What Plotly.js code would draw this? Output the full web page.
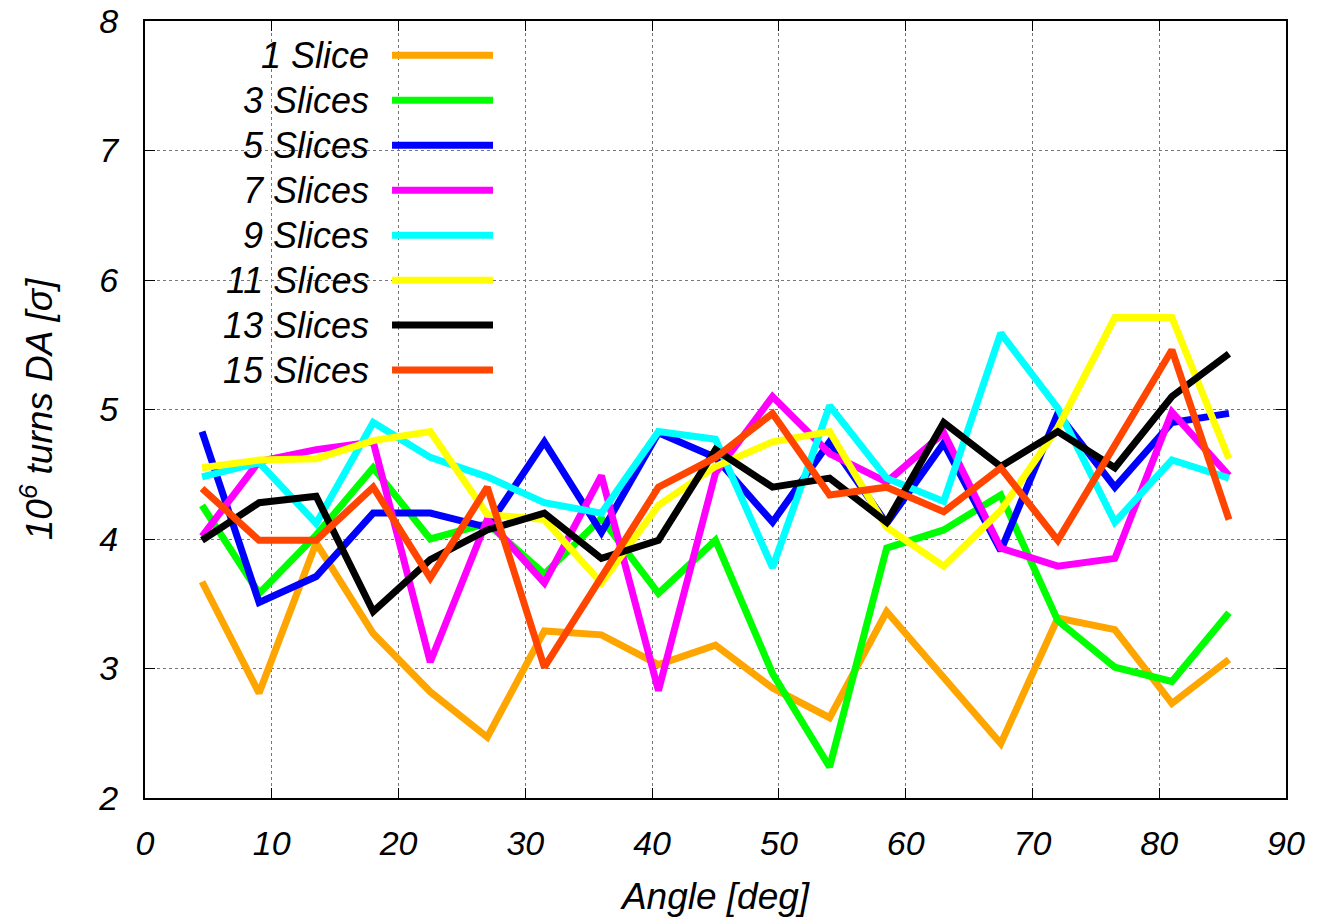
<!DOCTYPE html>
<html>
<head>
<meta charset="utf-8">
<script src="https://cdn.plot.ly/plotly-3.0.1.min.js"></script>
<style>
  html, body { margin: 0; padding: 0; background: #fff; }
  #chart { width: 1321px; height: 917px; }
</style>
</head>
<body>
<div id="chart"></div>
<script>
// Scan angles (deg)
const angles = [4.5, 9, 13.5, 18, 22.5, 27, 31.5, 36, 40.5, 45, 49.5, 54, 58.5, 63, 67.5, 72, 76.5, 81, 85.5];

// Dynamic aperture after 10^6 turns, per number of slices
const slices1  = [3.67, 2.81, 3.97, 3.27, 2.82, 2.47, 3.29, 3.26, 3.03, 3.18, 2.85, 2.62, 3.44, 2.93, 2.42, 3.39, 3.30, 2.73, 3.07];
const slices3  = [4.26, 3.58, 4.03, 4.55, 4.00, 4.12, 3.73, 4.16, 3.58, 3.99, 2.96, 2.24, 3.93, 4.07, 4.34, 3.37, 3.01, 2.90, 3.43];
const slices5  = [4.83, 3.51, 3.71, 4.20, 4.20, 4.09, 4.75, 4.05, 4.82, 4.63, 4.13, 4.75, 4.12, 4.74, 3.91, 4.97, 4.40, 4.90, 4.97];
const slices7  = [4.02, 4.60, 4.69, 4.75, 3.05, 4.15, 3.66, 4.49, 2.83, 4.51, 5.10, 4.66, 4.44, 4.82, 3.93, 3.79, 3.85, 4.98, 4.49];
const slices9  = [4.48, 4.59, 4.12, 4.90, 4.63, 4.48, 4.28, 4.20, 4.83, 4.77, 3.78, 5.03, 4.47, 4.29, 5.59, 5.01, 4.13, 4.61, 4.47];
const slices11 = [4.55, 4.61, 4.62, 4.76, 4.83, 4.19, 4.15, 3.66, 4.26, 4.56, 4.75, 4.83, 4.09, 3.79, 4.22, 4.86, 5.71, 5.71, 4.62];
const slices13 = [3.99, 4.28, 4.33, 3.44, 3.84, 4.07, 4.20, 3.85, 3.99, 4.69, 4.40, 4.47, 4.13, 4.90, 4.56, 4.83, 4.55, 5.10, 5.43];
const slices15 = [4.39, 3.99, 3.99, 4.40, 3.70, 4.40, 3.01, 3.71, 4.40, 4.63, 4.97, 4.34, 4.40, 4.21, 4.55, 3.99, 4.73, 5.46, 4.15];

const seriesNames  = ['1 Slice', '3 Slices', '5 Slices', '7 Slices', '9 Slices', '11 Slices', '13 Slices', '15 Slices'];
const seriesValues = [slices1, slices3, slices5, slices7, slices9, slices11, slices13, slices15];
const seriesColors = ['#FFA500', '#00FF00', '#0000FF', '#FF00FF', '#00FFFF', '#FFFF00', '#000000', '#FF4500'];

const xTicks = [0, 10, 20, 30, 40, 50, 60, 70, 80, 90];
const yTicks = [2, 3, 4, 5, 6, 7, 8];

const FONT = 'Liberation Sans, Arial, Helvetica, sans-serif';
const LINE_W = 7;

const traces = seriesValues.map((vals, i) => ({
  type: 'scatter',
  mode: 'lines',
  name: seriesNames[i],
  x: angles,
  y: vals,
  line: { color: seriesColors[i], width: LINE_W },
  showlegend: false
}));

// Key: right-aligned italic label followed by a line sample, top-left of the plot
const keyTop = 0.956, keyStep = 0.0579;
const keyShapes = seriesNames.map((n, i) => ({
  type: 'line', xref: 'paper', yref: 'paper',
  x0: 0.2165, x1: 0.305,
  y0: keyTop - i * keyStep, y1: keyTop - i * keyStep,
  line: { color: seriesColors[i], width: LINE_W }
}));
const keyLabels = seriesNames.map((n, i) => ({
  xref: 'paper', yref: 'paper',
  x: 0.198, y: keyTop - i * keyStep,
  xanchor: 'right', yanchor: 'middle',
  text: '<i>' + n + '</i>',
  showarrow: false,
  font: { family: FONT, size: 36, color: '#000' }
}));

const axisCommon = {
  showline: true, linecolor: '#000', linewidth: 2, mirror: 'ticks',
  ticks: 'inside', ticklen: 10, tickwidth: 1, tickcolor: '#000',
  showgrid: true, gridcolor: '#777', gridwidth: 1, griddash: 'dot',
  zeroline: false,
  tickfont: { family: FONT, size: 34, color: '#000', style: 'italic' }
};

const layout = {
  width: 1321, height: 917,
  paper_bgcolor: '#fff', plot_bgcolor: '#fff',
  margin: { l: 145, r: 35, t: 21, b: 119 },
  showlegend: false,
  font: { family: FONT, color: '#000' },
  xaxis: Object.assign({}, axisCommon, {
    range: [0, 90], tickvals: xTicks, ticktext: xTicks.map(String),
    ticklabelstandoff: 14,
    title: { text: '<i>Angle [deg]</i>', font: { family: FONT, size: 37, color: '#000' }, standoff: 24 }
  }),
  yaxis: Object.assign({}, axisCommon, {
    range: [2, 8], tickvals: yTicks, ticktext: yTicks.map(String),
    ticklabelstandoff: 18,
    title: { text: '<i>10<sup>6</sup> turns DA [σ]</i>', font: { family: FONT, size: 37, color: '#000' }, standoff: 34 }
  }),
  shapes: keyShapes,
  annotations: keyLabels
};

Plotly.newPlot('chart', traces, layout, { staticPlot: true, displayModeBar: false });
</script>
</body>
</html>
